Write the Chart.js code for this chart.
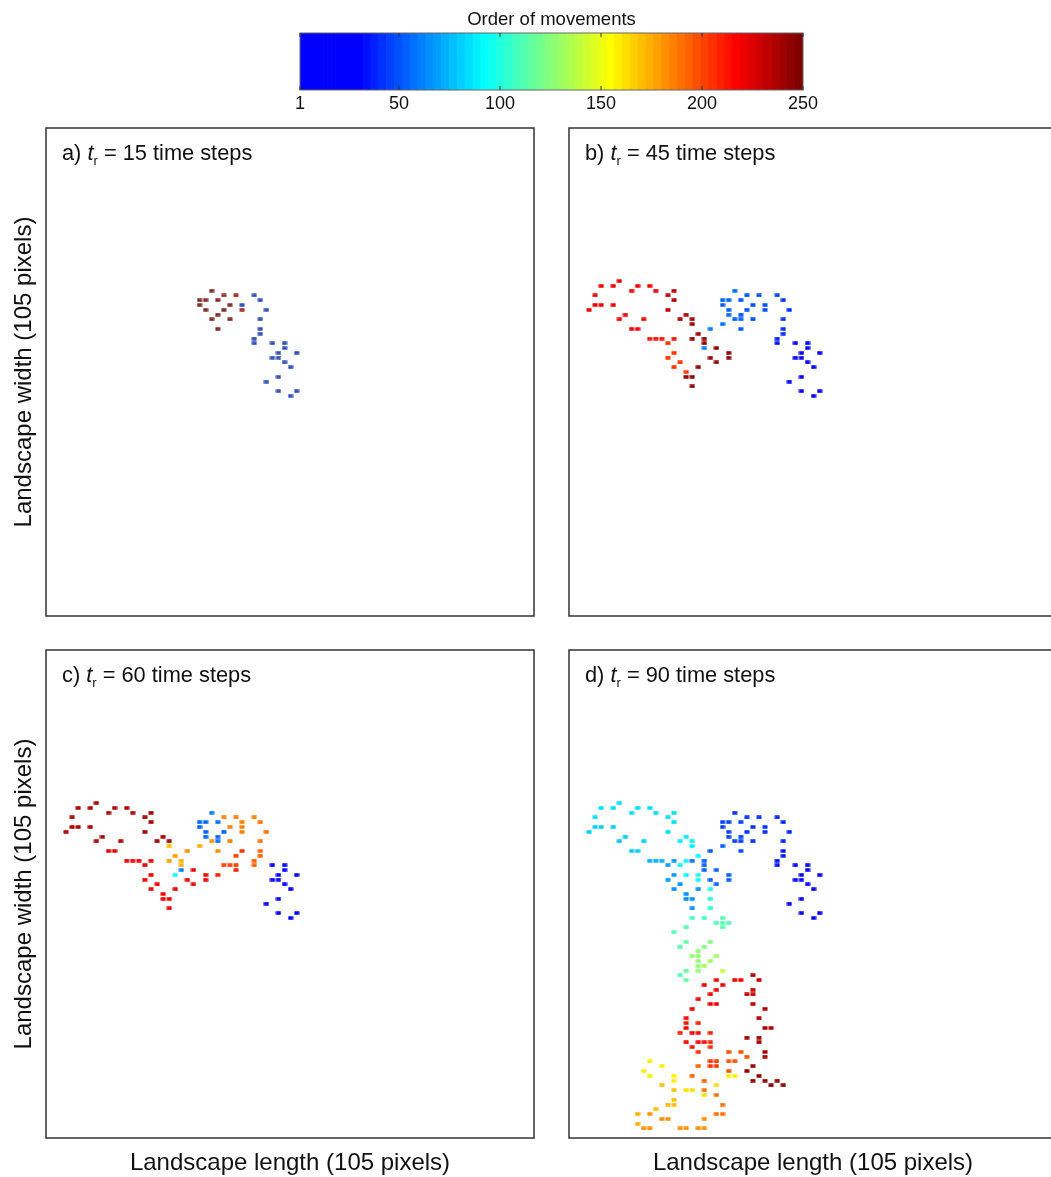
<!DOCTYPE html>
<html><head><meta charset="utf-8">
<script src="https://cdn.jsdelivr.net/npm/chart.js@4.4.1/dist/chart.umd.min.js"></script>
<style>
html,body{margin:0;padding:0;background:#fff;}
#wrap{position:relative;width:1051px;height:1177px;overflow:hidden;background:#fff;}
canvas{position:absolute;}
.plabel{position:absolute;font-family:"Liberation Sans",Arial,Helvetica,sans-serif;font-size:21.8px;color:#111;white-space:nowrap;line-height:22px;}
.plabel i{font-style:italic;}
.plabel sub{font-size:13px;vertical-align:-5px;line-height:0;}
</style></head>
<body><div id="wrap">
<canvas id="cbar" width="600" height="125" style="left:250px;top:0px"></canvas>
<canvas id="pa" width="545" height="530" style="left:0px;top:100px"></canvas>
<canvas id="pb" width="545" height="530" style="left:523px;top:100px"></canvas>
<canvas id="pc" width="545" height="556" style="left:0px;top:622px"></canvas>
<canvas id="pd" width="545" height="556" style="left:523px;top:622px"></canvas>
</div>
<script>
// ---------------- DATA ----------------
const colorbarTitle = 'Order of movements';
const colorbarTicks = [1, 50, 100, 150, 200, 250];
const panelLetters = ['a)', 'b)', 'c)', 'd)'];
const residenceTimes = [15, 45, 60, 90];
const xAxisTitle = 'Landscape length (105 pixels)';
const yAxisTitle = 'Landscape width (105 pixels)';

// [column, row, order of movement]
const panelA = [[27,34,245],[29,35,228],[31,35,228],[34,35,46],[25,36,245],[26,36,245],[28,36,245],[35,36,46],
[25,37,245],[30,37,245],[32,37,46],[26,38,245],[29,38,245],[32,38,228],[36,38,46],[28,39,245],[27,40,245],[30,40,245],
[35,40,46],[28,42,245],[35,42,46],[35,43,46],[34,44,46],[34,45,46],[37,45,46],[39,45,46],[39,46,46],[38,47,46],
[41,47,46],[37,48,46],[38,48,46],[39,49,46],[40,50,46],[38,52,46],[36,53,46],[38,55,46],[41,55,46],[40,56,46]];

const panelB = [[8,32,220],[5,33,220],[7,33,220],[11,33,220],[13,33,220],
[10,34,220],[14,34,222],[17,34,232],[27,34,58],
[4,35,220],[16,35,232],[29,35,50],[31,35,50],[34,35,45],
[17,36,235],[25,36,55],[26,36,55],[28,36,50],[35,36,42],
[4,37,220],[5,37,220],[7,37,220],[25,37,55],[30,37,50],[32,37,48],
[3,38,220],[16,38,232],[26,38,52],[29,38,50],[32,38,48],[36,38,42],
[9,39,218],[19,39,238],[26,39,52],[28,39,50],
[8,40,218],[12,40,218],[18,40,238],[20,40,240],[27,40,52],[28,40,52],[30,40,50],[35,40,42],
[20,41,242],[25,41,58],
[10,42,216],[11,42,216],[23,42,60],[28,42,55],[35,42,40],
[21,43,242],[35,43,40],
[13,44,214],[14,44,214],[15,44,214],[17,44,214],[20,44,244],[22,44,244],[34,44,38],
[16,45,205],[22,45,244],[34,45,36],[37,45,30],[39,45,30],
[22,46,62],[24,46,244],[39,46,30],
[17,47,205],[26,47,244],[38,47,30],[41,47,30],
[16,48,205],[23,48,244],[26,48,244],[37,48,30],[38,48,30],
[18,49,205],[24,49,244],[39,49,30],
[17,50,205],[21,50,244],[40,50,30],
[19,51,203],
[19,52,244],[20,52,244],[38,52,28],
[36,53,28],
[20,54,246],
[38,55,28],[41,55,28],
[40,56,28]];

const panelC = [[8,32,238],[5,33,238],[7,33,238],[11,33,238],[13,33,238],
[10,34,238],[14,34,238],[17,34,240],[27,34,60],
[4,35,238],[16,35,240],[29,35,185],[31,35,185],[34,35,185],
[17,36,242],[25,36,55],[26,36,55],[28,36,58],[32,36,185],[35,36,188],
[4,37,238],[5,37,238],[7,37,238],[25,37,55],[30,37,185],[32,37,185],
[3,38,238],[16,38,240],[26,38,55],[29,38,55],[32,38,185],[36,38,188],
[9,39,236],[19,39,242],[26,39,55],[28,39,55],
[8,40,236],[12,40,236],[18,40,242],[20,40,242],[27,40,182],[28,40,58],[30,40,185],[35,40,190],
[20,41,172],[25,41,175],
[10,42,224],[11,42,224],[23,42,180],[28,42,182],[32,42,205],[35,42,192],
[21,43,178],[31,43,200],[35,43,192],
[13,44,222],[14,44,222],[15,44,222],[17,44,222],[20,44,178],[22,44,176],[34,44,192],
[16,45,222],[22,45,176],[29,45,203],[30,45,203],[31,45,203],[34,45,195],[37,45,30],[39,45,30],
[22,46,60],[24,46,220],[31,46,208],[39,46,30],
[17,47,222],[21,47,95],[26,47,220],[28,47,210],[38,47,30],[41,47,30],
[16,48,222],[23,48,220],[26,48,220],[37,48,30],[38,48,30],
[18,49,222],[24,49,220],[39,49,30],
[17,50,222],[21,50,220],[40,50,30],
[19,51,222],
[19,52,222],[20,52,222],[38,52,28],
[36,53,28],
[20,54,222],
[38,55,28],[41,55,28],
[40,56,28]];

const panelD = [[8,32,84],[5,33,84],[7,33,84],[11,33,84],[13,33,84],
[10,34,84],[14,34,84],[17,34,84],[27,34,42],
[4,35,84],[16,35,84],[29,35,40],[31,35,40],[34,35,38],
[17,36,86],[25,36,45],[26,36,45],[28,36,45],[35,36,38],
[4,37,82],[5,37,82],[7,37,82],[25,37,45],[30,37,42],[32,37,42],
[3,38,82],[16,38,86],[26,38,45],[29,38,42],[32,38,42],[36,38,38],
[9,39,80],[19,39,88],[26,39,45],[28,39,45],
[8,40,76],[12,40,80],[18,40,88],[20,40,90],[27,40,45],[28,40,45],[30,40,42],[35,40,38],
[20,41,90],[25,41,55],
[10,42,80],[11,42,80],[23,42,55],[28,42,48],[35,42,36],
[21,43,92],[35,43,36],
[13,44,72],[14,44,72],[15,44,72],[17,44,70],[19,44,92],[20,44,58],[22,44,55],[34,44,34],
[16,45,68],[18,45,92],[22,45,55],[34,45,34],[37,45,30],[39,45,30],
[22,46,55],[24,46,55],[39,46,30],
[17,47,68],[19,47,94],[21,47,96],[26,47,55],[38,47,30],[41,47,30],
[16,48,68],[21,48,96],[23,48,55],[26,48,55],[37,48,30],[38,48,30],
[18,49,66],[24,49,55],[39,49,30],
[17,50,66],[21,50,66],[23,50,98],[40,50,30],
[19,51,64],
[19,52,64],[20,52,64],[23,52,100],[38,52,28],
[36,53,28],
[20,54,64],[23,54,100],
[38,55,28],[41,55,28],
[20,56,108],[22,56,108],[25,56,110],[40,56,28],
[24,57,110],[25,57,110],[26,57,110],
[19,58,110],[25,58,110],
[17,59,110],
[19,61,114],[23,61,124],
[18,62,110],[22,62,124],
[21,63,128],
[20,64,128],[21,64,128],[24,64,130],
[21,65,128],[23,65,130],
[21,66,128],[22,66,130],
[19,67,114],[21,67,128],[25,67,138],
[18,68,110],[30,68,238],
[19,69,116],[24,69,220],[27,69,220],[28,69,220],[31,69,230],
[22,70,220],[25,70,220],
[24,71,220],[30,71,232],
[23,72,220],[29,72,234],[30,72,234],
[21,73,220],
[23,74,220],[24,74,220],[30,74,234],
[20,75,220],[32,75,236],
[19,77,218],[31,77,238],
[19,78,212],[21,78,210],
[19,79,216],[32,79,238],[33,79,238],
[18,80,210],[20,80,216],[21,80,216],[23,80,208],
[29,81,240],[31,81,240],
[19,82,216],[21,82,216],[22,82,216],[23,82,208],[31,82,240],
[20,83,214],[23,83,206],
[21,84,206],[26,84,196],[28,84,196],[32,84,240],
[29,85,196],[32,85,242],
[13,86,160],[23,86,204],[24,86,204],[26,86,196],[27,86,196],
[15,87,160],[21,87,192],[23,87,204],[24,87,204],[30,87,244],
[12,88,160],[26,88,196],[29,88,244],
[13,89,160],[17,89,160],[20,89,192],[26,89,160],[27,89,160],[31,89,246],
[17,90,160],[22,90,192],[30,90,246],[32,90,246],[34,90,246],
[15,91,172],[24,91,162],[33,91,248],[35,91,248],
[17,92,170],[19,92,162],[20,92,162],[22,92,190],
[22,93,162],[24,93,190],
[17,94,172],
[16,95,172],[17,95,172],[25,95,190],
[14,96,172],
[11,97,174],[13,97,182],[24,97,190],[25,97,190],
[15,98,182],[16,98,182],[22,98,182],
[11,99,174],
[12,100,180],[13,100,180],[18,100,182],[19,100,182],[21,100,182],[22,100,182]];

// ---------------- STYLE / HELPERS ----------------
const FONT = '"Liberation Sans", Arial, Helvetica, sans-serif';
const TEXT = '#111';

function jetBand(k){ // jet-like 64 band map, starting at pure blue
  const c = x => Math.max(0, Math.min(1, x));
  return [c(Math.min((k-24)/16,(72-k)/16)), c(Math.min((k-8)/16,(56-k)/16)), c((40-k)/16)]
    .map(x => Math.round(x*255));
}
function bandOf(v){ return Math.min(64, Math.max(1, Math.floor((v-1)/249*64)+1)); }
function colorFor(v, muted){
  let rgb = jetBand(bandOf(v));
  if (muted) { const g=[110,100,90], f=0.45; rgb = rgb.map((c,i)=>Math.round(c*(1-f)+g[i]*f)); }
  return rgb;
}
const markerCache = {};
function marker(rgb){
  const key = rgb.join(',');
  if (!markerCache[key]) {
    const c = document.createElement('canvas'); c.width = 6; c.height = 4;
    const x = c.getContext('2d'); x.fillStyle = 'rgb(' + key + ')'; x.fillRect(0.5, 0.25, 5, 3.5);
    markerCache[key] = c;
  }
  return markerCache[key];
}

const framePlugin = { id: 'frame', afterDraw(chart){
  const {ctx, chartArea: a} = chart;
  ctx.save(); ctx.strokeStyle = '#333'; ctx.lineWidth = 1.5;
  ctx.strokeRect(a.left, a.top, a.right - a.left, a.bottom - a.top); ctx.restore();
}};

function makePanel(id, pts, o){
  return new Chart(document.getElementById(id), {
    type: 'scatter',
    data: { datasets: [{
      data: pts.map(p => ({x: p[0], y: p[1], v: p[2]})),
      pointStyle: ctx => marker(colorFor(ctx.raw ? ctx.raw.v : 1, o.muted)),
      pointRadius: 3, pointHoverRadius: 3, borderWidth: 0
    }]},
    options: {
      responsive: false, animation: false, events: [],
      layout: { padding: { left: o.yTitle ? 10.1 : 46, right: 11, top: 28, bottom: o.xTitle ? 0 : 14 } },
      plugins: { legend: {display: false}, tooltip: {enabled: false} },
      scales: {
        x: { type: 'linear', min: -0.3, max: 80.1, display: o.xTitle,
             grid: {display: false, drawTicks: false}, border: {display: false}, ticks: {display: false},
             title: { display: true, text: xAxisTitle, color: TEXT, font: {family: FONT, size: 24}, padding: {top: 11.2, bottom: 0} } },
        y: { type: 'linear', min: 0, max: 102, reverse: true, display: o.yTitle,
             grid: {display: false, drawTicks: false}, border: {display: false}, ticks: {display: false},
             title: { display: true, text: yAxisTitle, color: TEXT, font: {family: FONT, size: 24}, padding: {top: 0, bottom: 7.1} } }
      }
    },
    plugins: [framePlugin]
  });
}

// ---------------- COLORBAR ----------------
const bands = Array.from({length: 64}, (_, i) => i + 1);
const cbPlugin = { id: 'cbframe', afterDraw(chart){
  const {ctx, chartArea: a} = chart; const s = chart.scales.cb;
  ctx.save(); ctx.strokeStyle = '#666'; ctx.lineWidth = 1;
  ctx.strokeRect(a.left, a.top, a.right - a.left, a.bottom - a.top);
  ctx.strokeStyle = '#333'; ctx.beginPath();
  s.ticks.forEach(t => { const x = s.getPixelForValue(t.value);
    ctx.moveTo(x, a.top); ctx.lineTo(x, a.top + 4); ctx.moveTo(x, a.bottom); ctx.lineTo(x, a.bottom - 4); });
  ctx.stroke(); ctx.restore();
}};
new Chart(document.getElementById('cbar'), {
  type: 'bar',
  data: { labels: bands, datasets: [{ data: bands.map(() => 1),
    backgroundColor: bands.map(k => 'rgb(' + jetBand(k).join(',') + ')'),
    barPercentage: 1, categoryPercentage: 1, borderWidth: 0 }] },
  options: {
    responsive: false, animation: false, events: [],
    layout: { padding: { left: 50, right: 47, top: 0, bottom: 7.4 } },
    plugins: { legend: {display: false}, tooltip: {enabled: false},
      title: { display: true, text: colorbarTitle, color: TEXT, font: {family: FONT, size: 18.5, weight: 'normal'}, padding: {top: 8.5, bottom: 2.3} } },
    scales: {
      x: { display: false },
      y: { display: false, min: 0, max: 1 },
      cb: { type: 'linear', axis: 'x', position: 'bottom', min: 1, max: 250, offset: false,
        afterBuildTicks: s => { s.ticks = colorbarTicks.map(v => ({value: v})); },
        grid: {display: false, drawTicks: false, offset: false}, border: {display: false},
        ticks: { color: TEXT, font: {family: FONT, size: 18}, padding: 3, maxRotation: 0, autoSkip: false } }
    }
  },
  plugins: [cbPlugin]
});

// ---------------- PANELS ----------------
makePanel('pa', panelA, {muted: true,  xTitle: false, yTitle: true});
makePanel('pb', panelB, {muted: false, xTitle: false, yTitle: false});
makePanel('pc', panelC, {muted: false, xTitle: true,  yTitle: true});
makePanel('pd', panelD, {muted: false, xTitle: true,  yTitle: false});

// panel labels (real text)
const labelPos = [[62,142],[585,142],[62,664],[585,664]];
const wrap = document.getElementById('wrap');
panelLetters.forEach((l, i) => {
  const d = document.createElement('div'); d.className = 'plabel';
  d.style.left = labelPos[i][0] + 'px'; d.style.top = labelPos[i][1] + 'px';
  d.innerHTML = l + ' <i>t</i><sub>r</sub> = ' + residenceTimes[i] + ' time steps';
  wrap.appendChild(d);
});
</script>
</body></html>
